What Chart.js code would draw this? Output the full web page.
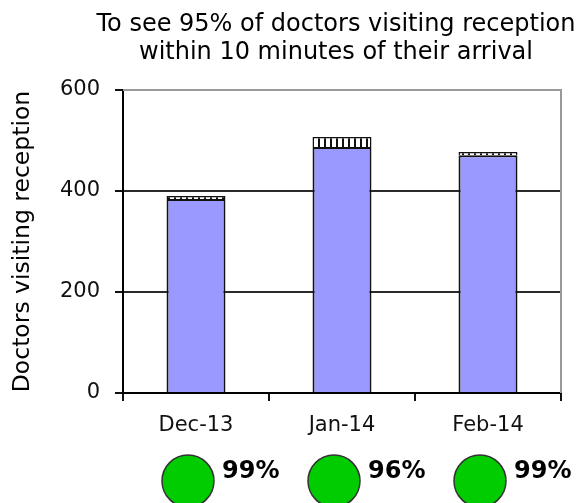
<!DOCTYPE html>
<html lang="en">
<head>
    <meta charset="UTF-8">
    <title>Doctors visiting reception</title>
    <script src="https://cdn.jsdelivr.net/npm/chart.js"></script>
    <style>
        body {
            margin: 0;
            background: #ffffff;
        }
        .chart-container {
            position: relative;
            width: 585px;
            height: 503px;
        }
    </style>
</head>
<body>
    <div class="chart-container">
        <canvas id="receptionChart"></canvas>
    </div>

    <script>
        const months = ['Dec-13', 'Jan-14', 'Feb-14'];
        const within10 = [384, 487, 471];
        const over10 = [6, 20, 6];
        const scores = ['99%', '96%', '99%'];
        const titleLines = ['To see 95% of doctors visiting reception', 'within 10 minutes of their arrival'];

        const FONT = "'DejaVu Sans', Verdana, sans-serif";

        // vertical black/white stripes for the "over 10 minutes" part
        function makeHatch() {
            const c = document.createElement('canvas');
            c.width = 6;
            c.height = 6;
            const g = c.getContext('2d');
            g.fillStyle = '#ffffff';
            g.fillRect(0, 0, 6, 6);
            g.fillStyle = '#111111';
            g.fillRect(0, 0, 2, 6);
            return g.createPattern(c, 'repeat');
        }

        const titlePlugin = {
            id: 'twoLineTitle',
            afterDraw(chart) {
                const ctx = chart.ctx;
                const a = chart.chartArea;
                ctx.save();
                ctx.font = '24px ' + FONT;
                ctx.fillStyle = '#000000';
                ctx.textAlign = 'center';
                ctx.textBaseline = 'middle';
                const cx = (a.left + a.right) / 2 - 6;
                ctx.fillText(titleLines[0], cx, 25);
                ctx.fillText(titleLines[1], cx, 53);
                ctx.restore();
            }
        };

        const framePlugin = {
            id: 'frame',
            beforeDatasetsDraw(chart) {
                const ctx = chart.ctx;
                const a = chart.chartArea;
                ctx.save();
                ctx.strokeStyle = '#999999';
                ctx.lineWidth = 2;
                ctx.beginPath();
                ctx.moveTo(a.left, a.top);
                ctx.lineTo(a.right, a.top);
                ctx.lineTo(a.right, a.bottom);
                ctx.stroke();
                ctx.restore();
            }
        };

        // green status dots with the percentage under each month
        const scorePlugin = {
            id: 'scores',
            afterDraw(chart) {
                const ctx = chart.ctx;
                const xScale = chart.scales.x;
                ctx.save();
                scores.forEach((s, i) => {
                    const x = xScale.getPixelForValue(i) - 8;
                    const y = 481;
                    ctx.beginPath();
                    ctx.arc(x, y, 26, 0, Math.PI * 2);
                    ctx.fillStyle = '#00cc00';
                    ctx.fill();
                    ctx.lineWidth = 1.5;
                    ctx.strokeStyle = '#333333';
                    ctx.stroke();
                    ctx.fillStyle = '#000000';
                    ctx.font = 'bold 24px ' + FONT;
                    ctx.textAlign = 'left';
                    ctx.textBaseline = 'middle';
                    ctx.fillText(s, x + 34, y - 9);
                });
                ctx.restore();
            }
        };

        const ctx = document.getElementById('receptionChart').getContext('2d');
        const hatch = makeHatch();

        new Chart(ctx, {
            type: 'bar',
            data: {
                labels: months,
                datasets: [
                    {
                        label: 'Within 10 minutes',
                        data: within10,
                        backgroundColor: '#9999ff',
                        borderColor: '#111111',
                        borderWidth: 2,
                        categoryPercentage: 1,
                        barPercentage: 0.404
                    },
                    {
                        label: 'Over 10 minutes',
                        data: over10,
                        backgroundColor: hatch,
                        borderColor: '#111111',
                        borderWidth: 1.5,
                        categoryPercentage: 1,
                        barPercentage: 0.404
                    }
                ]
            },
            options: {
                responsive: true,
                maintainAspectRatio: false,
                animation: false,
                layout: {
                    padding: { top: 90, right: 24, left: 0, bottom: 0 }
                },
                scales: {
                    x: {
                        stacked: true,
                        afterFit(scale) { scale.height = 110; },
                        border: { color: '#000000', width: 2 },
                        grid: {
                            offset: true,
                            drawOnChartArea: false,
                            drawTicks: true,
                            tickLength: 8,
                            tickColor: '#111111',
                            lineWidth: 2
                        },
                        ticks: {
                            color: '#111111',
                            padding: 12,
                            font: { family: FONT, size: 21 }
                        }
                    },
                    y: {
                        stacked: true,
                        min: 0,
                        max: 600,
                        afterFit(scale) { scale.width = 123; },
                        border: { color: '#000000', width: 2 },
                        grid: {
                            color: (c) => c.tick && c.tick.value === 600 ? '#999999' : '#2a2a2a',
                            lineWidth: 2,
                            tickLength: 8,
                            tickColor: '#111111'
                        },
                        ticks: {
                            stepSize: 200,
                            color: '#111111',
                            padding: 15,
                            font: { family: FONT, size: 21 }
                        },
                        title: {
                            display: true,
                            text: 'Doctors visiting reception',
                            color: '#000000',
                            padding: { top: 9, bottom: 0 },
                            font: { family: FONT, size: 23.5 }
                        }
                    }
                },
                plugins: {
                    legend: { display: false },
                    tooltip: { enabled: true }
                }
            },
            plugins: [titlePlugin, framePlugin, scorePlugin]
        });
    </script>
</body>
</html>
